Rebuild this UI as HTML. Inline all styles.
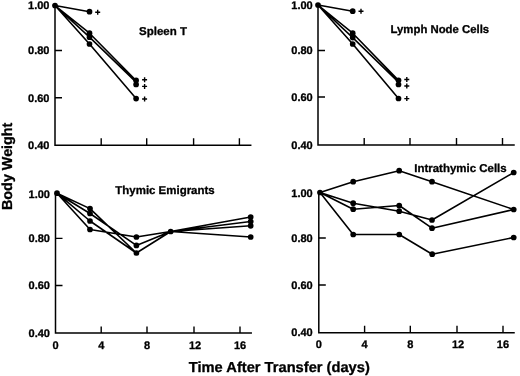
<!DOCTYPE html>
<html><head><meta charset="utf-8"><title>Body Weight vs Time After Transfer</title>
<style>
html,body{margin:0;padding:0;background:#fff;}
body{width:520px;height:376px;overflow:hidden;}
svg{display:block;will-change:transform;transform:translateZ(0);text-rendering:geometricPrecision;font-family:"Liberation Sans",sans-serif;font-weight:bold;fill:#000;}
.ax{stroke:#000;stroke-width:1.5;fill:none;stroke-linecap:square;}
.tk{stroke:#000;stroke-width:1.4;fill:none;}
.ln{stroke:#000;stroke-width:1.6;fill:none;stroke-linejoin:round;stroke-linecap:round;}
.pt circle{fill:#000;}
text{stroke:#000;stroke-width:0.3px;stroke-linejoin:round;}
.yl text{font-size:11px;text-anchor:end;}
.xl text{font-size:11px;text-anchor:middle;}
.ti{font-size:11.4px;}
.at{font-size:14.5px;}
.pl{stroke:#000;stroke-width:1.4;fill:none;}
</style></head>
<body>
<svg width="520" height="376" viewBox="0 0 520 376">
<rect width="520" height="376" fill="#fff"/>

<!-- ===== Top-left: Spleen T ===== -->
<g>
<path class="ax" d="M55 5.5V145.2H250.7"/>
<path class="tk" d="M55 50.5h7M55 97.7h7M101.2 145.2v-7M146.7 145.2v-7M193.6 145.2v-7M239.4 145.2v-7"/>
<g class="yl"><text x="49.5" y="8.9">1.00</text><text x="49.5" y="54">0.80</text><text x="49.5" y="101.7">0.60</text><text x="49.5" y="149">0.40</text></g>
<path class="ln" d="M55 5.5L89.5 11.7M55 5.5L89.5 33.2L136.1 80.5M55 5.5L89.5 37.2L136.1 82.1M55 5.5L89.5 44L136.1 98.6"/>
<g class="pt"><circle cx="55" cy="5.5" r="2.85"/><circle cx="89.5" cy="11.7" r="2.85"/><circle cx="89.5" cy="33.2" r="2.85"/><circle cx="89.5" cy="37.2" r="2.85"/><circle cx="89.5" cy="44" r="2.85"/><circle cx="136.1" cy="80.4" r="2.85"/><circle cx="136.1" cy="84.5" r="2.85"/><circle cx="136.1" cy="98.6" r="2.85"/></g>
<path class="pl" d="M95.2 12.2h5.0M97.7 9.7v5.0M142.1 79.8h5.0M144.6 77.3v5.0M142.1 86.4h5.0M144.6 83.9v5.0M142.1 99.0h5.0M144.6 96.5v5.0"/>
<text class="ti" x="139.1" y="35.3" textLength="47.9" lengthAdjust="spacingAndGlyphs">Spleen T</text>
</g>

<!-- ===== Top-right: Lymph Node Cells ===== -->
<g>
<path class="ax" d="M318 5V145H514"/>
<path class="tk" d="M318 50.5h7M318 97h7M364.2 145v-7M410 145v-7M456.5 145v-7M502.5 145v-7"/>
<g class="yl"><text x="312.7" y="8.7">1.00</text><text x="312.7" y="53.8">0.80</text><text x="312.7" y="101">0.60</text><text x="312.7" y="148.7">0.40</text></g>
<path class="ln" d="M318 5L352.7 11.2M318 5L352.7 33.2L398.5 80.4M318 5L352.7 37.6L398.5 82.1M318 5L352.7 44L398.5 98.5"/>
<g class="pt"><circle cx="318" cy="5" r="2.85"/><circle cx="352.7" cy="11.2" r="2.85"/><circle cx="352.7" cy="33.2" r="2.85"/><circle cx="352.7" cy="37.6" r="2.85"/><circle cx="352.7" cy="44" r="2.85"/><circle cx="398.5" cy="80.3" r="2.85"/><circle cx="398.5" cy="84.5" r="2.85"/><circle cx="398.5" cy="98.5" r="2.85"/></g>
<path class="pl" d="M358.5 11.3h5.0M361.0 8.8v5.0M404.3 79.5h5.0M406.8 77.0v5.0M404.3 86.0h5.0M406.8 83.5v5.0M404.3 98.6h5.0M406.8 96.1v5.0"/>
<text class="ti" x="390.5" y="33.3" textLength="98.7" lengthAdjust="spacingAndGlyphs">Lymph Node Cells</text>
</g>

<!-- ===== Bottom-left: Thymic Emigrants ===== -->
<g>
<path class="ax" d="M55.5 193V333H251.2"/>
<path class="tk" d="M55.5 238.4h7M55.5 285.5h7M101.2 333v-6.5M147 333v-6.5M194 333v-6.5M240 333v-6.5"/>
<g class="yl"><text x="50" y="198">1.00</text><text x="50" y="242">0.80</text><text x="50" y="288.8">0.60</text><text x="50" y="336.7">0.40</text></g>
<g class="xl"><text x="55.5" y="348.8">0</text><text x="101.2" y="348.8">4</text><text x="147" y="348.8">8</text><text x="195" y="348.8">12</text><text x="240" y="348.8">16</text></g>
<path class="ln" d="M57 193.2L90 208.6L136.4 253L170.7 231.5L250.7 217M57 193.2L90 213.5L136.4 245.4L170.7 231.5L250.7 221.5M57 193.2L90 221L136.4 253L170.7 231.5L250.7 225.8M57 193.2L90 229.5L136.4 237L170.7 231.5L250.7 237"/>
<g class="pt"><circle cx="57" cy="193.2" r="2.85"/><circle cx="90" cy="208.6" r="2.85"/><circle cx="90" cy="213.5" r="2.85"/><circle cx="90" cy="221" r="2.85"/><circle cx="90" cy="229.5" r="2.85"/><circle cx="136.4" cy="237" r="2.85"/><circle cx="136.4" cy="245.4" r="2.85"/><circle cx="136.4" cy="253" r="2.85"/><circle cx="170.7" cy="231.5" r="2.85"/><circle cx="250.7" cy="217" r="2.85"/><circle cx="250.7" cy="221.5" r="2.85"/><circle cx="250.7" cy="225.8" r="2.85"/><circle cx="250.7" cy="237" r="2.85"/></g>
<text class="ti" x="115.3" y="194.1" textLength="99.4" lengthAdjust="spacingAndGlyphs">Thymic Emigrants</text>
</g>

<!-- ===== Bottom-right: Intrathymic Cells ===== -->
<g>
<path class="ax" d="M318.8 192.5V332.8H514"/>
<path class="tk" d="M318.8 238h7M318.8 285h7M364.6 332.8v-7M410.3 332.8v-7M457 332.8v-7M503 332.8v-7"/>
<g class="yl"><text x="312.7" y="197">1.00</text><text x="312.7" y="242">0.80</text><text x="312.7" y="289">0.60</text><text x="312.7" y="336.1">0.40</text></g>
<g class="xl"><text x="318.8" y="347.9">0</text><text x="364.5" y="347.9">4</text><text x="410.3" y="347.9">8</text><text x="458" y="347.9">12</text><text x="502.9" y="347.9">16</text></g>
<path class="ln" d="M320 192.5L353.2 181.7L399.2 170.7L432 181.7L513.7 209.5M320 192.5L353.2 203.2L399.2 211.2L432 220L513.7 172.5M320 192.5L353.2 209.2L399.2 205.5L432 228.2L513.7 209.5M320 192.5L353.2 234.5L399.2 234.5L432.2 254.2L513.7 237.5"/>
<g class="pt"><circle cx="320" cy="192.5" r="2.85"/><circle cx="353.2" cy="181.7" r="2.85"/><circle cx="353.2" cy="203.2" r="2.85"/><circle cx="353.2" cy="209.2" r="2.85"/><circle cx="353.2" cy="234.5" r="2.85"/><circle cx="399.2" cy="170.7" r="2.85"/><circle cx="399.2" cy="205.5" r="2.85"/><circle cx="399.2" cy="211.2" r="2.85"/><circle cx="399.2" cy="234.5" r="2.85"/><circle cx="432" cy="181.7" r="2.85"/><circle cx="432" cy="220" r="2.85"/><circle cx="432" cy="228.2" r="2.85"/><circle cx="432.2" cy="254.2" r="2.85"/><circle cx="513.7" cy="172.5" r="2.85"/><circle cx="513.7" cy="209.5" r="2.85"/><circle cx="513.7" cy="237.5" r="2.85"/></g>
<text class="ti" x="414.2" y="172" textLength="92.5" lengthAdjust="spacingAndGlyphs">Intrathymic Cells</text>
</g>

<!-- ===== Axis titles ===== -->
<text class="at" x="188.8" y="372.3" textLength="181" lengthAdjust="spacingAndGlyphs">Time After Transfer (days)</text>
<text class="at" transform="translate(11.5 210) rotate(-90)" textLength="87.4" lengthAdjust="spacingAndGlyphs">Body Weight</text>
</svg>
</body></html>
